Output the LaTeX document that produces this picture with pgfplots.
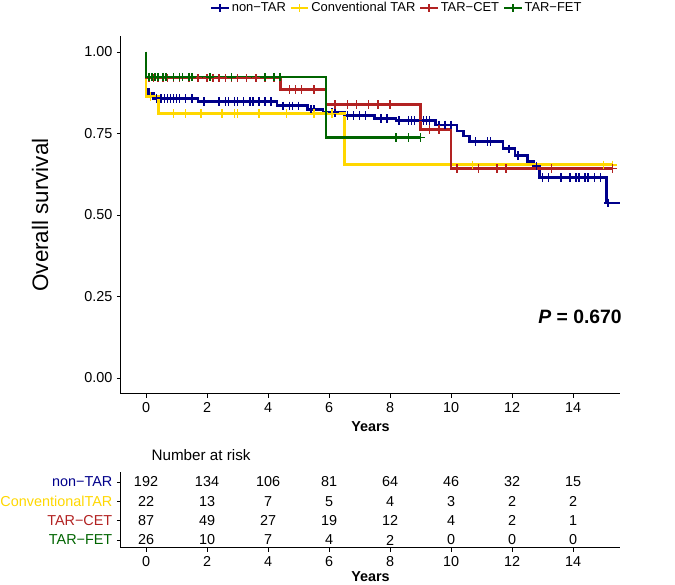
\documentclass[border=0pt]{standalone}
\usepackage{pgfplots}
\usepackage{pgfplotstable}
\pgfplotsset{compat=1.18}
\usepackage{fontspec}
\setmainfont{Liberation Sans}

\definecolor{cnon}{HTML}{00008B}
\definecolor{cconv}{HTML}{FFD700}
\definecolor{ccet}{HTML}{B22222}
\definecolor{cfet}{HTML}{006400}

% Kaplan-Meier steps: time, survival, censored flag
\pgfplotstableread{
t S c
0 1.000 0
0 0.885 0
0.08 0.872 0
0.25 0.858 0
0.35 0.858 1
0.5 0.858 1
0.6 0.858 1
0.7 0.858 1
0.8 0.858 1
0.9 0.858 1
1.0 0.858 1
1.1 0.858 1
1.3 0.858 1
1.5 0.858 1
1.7 0.848 0
1.9 0.848 1
2.4 0.848 1
2.6 0.848 1
2.7 0.848 1
2.9 0.848 1
3.0 0.848 1
3.2 0.848 1
3.4 0.848 1
3.5 0.848 1
3.7 0.848 1
3.9 0.848 1
4.1 0.848 1
4.3 0.835 0
4.5 0.835 1
4.7 0.835 1
4.8 0.835 1
5.0 0.835 1
5.3 0.824 0
5.4 0.824 1
5.5 0.824 1
5.8 0.814 0
6.1 0.814 1
6.2 0.814 1
6.5 0.805 0
6.6 0.805 1
6.8 0.805 1
7.0 0.805 1
7.2 0.805 1
7.5 0.796 0
7.7 0.796 1
7.9 0.796 1
8.2 0.790 0
8.3 0.790 1
8.6 0.790 1
8.7 0.790 1
8.8 0.790 1
9.1 0.790 1
9.2 0.790 1
9.3 0.790 1
9.5 0.776 0
9.6 0.776 1
9.8 0.776 1
10.0 0.776 1
10.2 0.758 0
10.4 0.742 0
10.6 0.725 0
10.8 0.725 1
11.2 0.725 1
11.3 0.725 1
11.7 0.703 0
11.9 0.703 1
12.1 0.683 0
12.2 0.683 1
12.5 0.665 0
12.7 0.650 0
12.8 0.650 1
12.9 0.615 0
13.0 0.615 1
13.2 0.615 1
13.6 0.615 1
13.9 0.615 1
14.1 0.615 1
14.2 0.615 1
14.4 0.615 1
14.5 0.615 1
14.7 0.615 1
14.9 0.615 1
15.1 0.537 0
15.15 0.537 1
15.54 0.537 0
}\tnon

\pgfplotstableread{
t S c
0 1.000 0
0 0.864 0
0.15 0.864 1
0.40 0.811 0
0.9 0.811 1
1.3 0.811 1
1.8 0.811 1
2.5 0.811 1
2.9 0.811 1
3.0 0.811 1
3.7 0.811 1
4.6 0.811 1
5.5 0.811 1
6.1 0.811 1
6.5 0.654 0
10.7 0.654 1
15.0 0.654 1
15.3 0.654 1
}\tconv

\pgfplotstableread{
t S c
0 1.000 0
0 0.920 0
0.1 0.920 1
0.25 0.920 1
0.4 0.920 1
0.55 0.920 1
0.7 0.920 1
0.9 0.920 1
1.1 0.920 1
1.4 0.920 1
1.7 0.920 1
2.0 0.920 1
2.2 0.920 1
2.4 0.920 1
2.6 0.920 1
2.8 0.920 1
3.0 0.920 1
3.3 0.920 1
3.6 0.920 1
3.9 0.920 1
4.2 0.920 1
4.4 0.885 0
4.7 0.885 1
4.9 0.885 1
5.1 0.885 1
5.5 0.885 1
5.9 0.839 0
6.2 0.839 1
6.6 0.839 1
6.9 0.839 1
7.3 0.839 1
7.6 0.839 1
8.0 0.839 1
9.0 0.763 0
9.3 0.763 1
9.6 0.763 1
10.0 0.643 0
10.2 0.643 1
10.9 0.643 1
11.5 0.643 1
11.8 0.643 1
13.3 0.643 1
15.3 0.643 1
}\tcet

\pgfplotstableread{
t S c
0 1.000 0
0 0.923 0
0.1 0.923 1
0.2 0.923 1
0.3 0.923 1
0.4 0.923 1
0.55 0.923 1
0.65 0.923 1
0.9 0.923 1
1.1 0.923 1
1.2 0.923 1
1.4 0.923 1
1.5 0.923 1
2.1 0.923 1
2.8 0.923 1
3.9 0.923 1
4.2 0.923 1
4.4 0.923 1
5.9 0.738 0
8.2 0.738 1
8.6 0.738 1
9.0 0.738 1
}\tfet

% numbers at risk: time, row, count
\pgfplotstableread{
t r n
0 4 192
2 4 134
4 4 106
6 4 81
8 4 64
10 4 46
12 4 32
14 4 15
0 3 22
2 3 13
4 3 7
6 3 5
8 3 4
10 3 3
12 3 2
14 3 2
0 2 87
2 2 49
4 2 27
6 2 19
8 2 12
10 2 4
12 2 2
14 2 1
0 1 26
2 1 10
4 1 7
6 1 4
8 1 2
10 1 0
12 1 0
14 1 0
}\trisk

\newcommand{\tickfont}{\fontsize{10.8}{13}\selectfont}

\pgfplotsset{
  every axis/.append style={
    scale only axis,
    axis x line*=bottom, axis y line*=left,
    axis line style={-, line width=0.75pt, black},
    tick align=outside,
    major tick length=3pt,
    tick style={black, line width=0.6pt},
    tick label style={font=\tickfont, black},
    /pgf/number format/assume math mode=true,
    label style={font=\bfseries\tickfont},
  },
  kmline/.style={const plot, line width=2pt, color=#1, forget plot},
  kmcens/.style={only marks, mark=+, mark size=3.2pt, color=#1, mark options={line width=1.2pt},
    restrict expr to domain={\thisrow{c}}{0.5:1.5}, forget plot},
}

\begin{document}
\begin{tikzpicture}
\begin{axis}[
  width=374.25pt, height=268.5pt,
  xmin=-0.82, xmax=15.54, ymin=-0.049, ymax=1.049,
  xtick={0,2,...,14},
  ytick={0,0.25,0.5,0.75,1},
  yticklabel style={/pgf/number format/.cd, fixed, fixed zerofill, precision=2},
  xlabel={Years},
  ylabel={Overall survival},
  ylabel style={font=\fontsize{16.8}{20}\selectfont, at={(axis description cs:-0.162,0.5)}, anchor=center},
  legend style={at={(rel axis cs:0.553,1.078)}, anchor=center, legend columns=4, draw=none,
    font=\fontsize{9.7}{11}\selectfont, inner sep=0pt,
    nodes={inner sep=1.5pt},
    /tikz/every even column/.append style={column sep=1.5pt}},
  legend image code/.code={\draw[#1, mark repeat=2, mark phase=2] plot coordinates {(0cm,0cm) (0.23cm,0cm) (0.46cm,0cm)};},
]
\addlegendimage{cnon, line width=1.5pt, mark=+, mark size=3pt, mark options={line width=1.1pt}}
\addlegendentry{non−TAR}
\addlegendimage{cconv, line width=1.5pt, mark=+, mark size=3pt, mark options={line width=1.1pt}}
\addlegendentry{Conventional TAR}
\addlegendimage{ccet, line width=1.5pt, mark=+, mark size=3pt, mark options={line width=1.1pt}}
\addlegendentry{TAR−CET}
\addlegendimage{cfet, line width=1.5pt, mark=+, mark size=3pt, mark options={line width=1.1pt}}
\addlegendentry{TAR−FET}

\addplot[kmline=cnon] table[x=t, y=S] {\tnon};
\addplot[kmcens=cnon] table[x=t, y=S] {\tnon};
\addplot[kmline=cconv] table[x=t, y=S] {\tconv};
\addplot[kmcens=cconv] table[x=t, y=S] {\tconv};
\addplot[kmline=ccet] table[x=t, y=S] {\tcet};
\addplot[kmcens=ccet] table[x=t, y=S] {\tcet};
\addplot[kmline=cfet] table[x=t, y=S] {\tfet};
\addplot[kmcens=cfet] table[x=t, y=S] {\tfet};

\node[font=\bfseries\fontsize{14.5}{17}\selectfont] at (axis cs:14.23,0.187) {\textit{P} = 0.670};
\end{axis}

\begin{axis}[
  at={(0pt,-115.5pt)}, anchor=south west,
  width=374.25pt, height=57pt,
  xmin=-0.82, xmax=15.54, ymin=0.585, ymax=4.52,
  xtick={0,2,...,14},
  ytick={1,2,3,4},
  yticklabels={{\color{cfet}TAR−FET},{\color{ccet}TAR−CET},{\color{cconv}ConventionalTAR},{\color{cnon}non−TAR}},
  xlabel={Years},
  xlabel style={yshift=3pt},
  clip=false,
]
\addplot[draw=none, mark=none, nodes near coords, point meta=explicit symbolic,
  nodes near coords style={anchor=center, font=\tickfont, inner sep=0pt}]
  table[x=t, y=r, meta=n] {\trisk};
\node[anchor=west, font=\fontsize{11.4}{14}\selectfont] at (rel axis cs:0.052,1.224) {Number at risk};
\end{axis}

\pgfresetboundingbox
\path[use as bounding box] (-90.75pt,-143.25pt) rectangle (415.5pt,295.5pt);
\end{tikzpicture}
\end{document}
